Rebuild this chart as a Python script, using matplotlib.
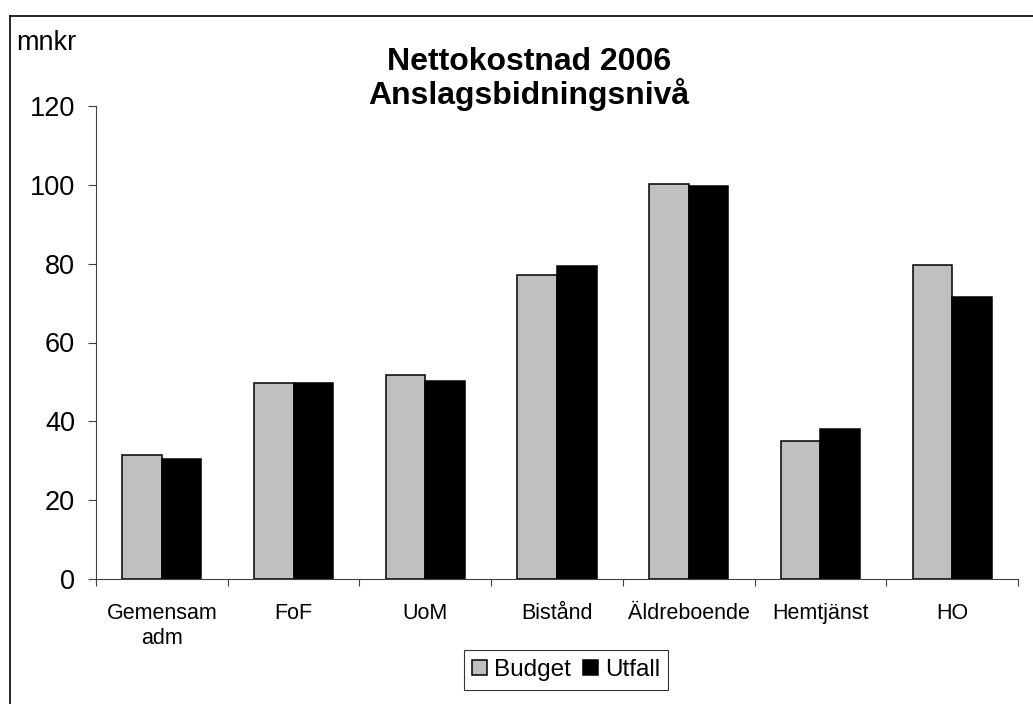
import numpy as np
import matplotlib.pyplot as plt
from matplotlib.lines import Line2D

plt.rcParams["font.family"] = ["Liberation Sans", "DejaVu Sans"]

GREY = "#c0c0c0"
BLACK = "#000000"

categories = ["Gemensam\nadm", "FoF", "UoM", "Bistånd", "Äldreboende", "Hemtjänst", "HO"]
budget = [31.4, 49.7, 51.8, 77.2, 100.1, 35.0, 79.7]
utfall = [30.5, 49.8, 50.3, 79.3, 99.6, 38.1, 71.6]
yticks = [0, 20, 40, 60, 80, 100, 120]

W, H = 1033, 704
fig = plt.figure(figsize=(W / 100, H / 100), dpi=100)
ax = fig.add_axes([96 / W, 1 - 579 / H, (1018 - 96) / W, (579 - 106) / H])

x = np.arange(len(categories))
width = 0.3
b1 = ax.bar(x - width / 2, budget, width, color=GREY, edgecolor=BLACK, linewidth=1.1, label="Budget")
b2 = ax.bar(x + width / 2, utfall, width, color=BLACK, edgecolor=BLACK, linewidth=1.1, label="Utfall")

ax.set_xlim(-0.5, len(categories) - 0.5)
ax.set_ylim(0, 120)
ax.set_yticks(yticks)
ax.set_yticklabels([str(v) for v in yticks], fontsize=19.5)
ax.tick_params(axis="y", length=6, width=0.8, pad=9, color="#404040")

# boundary ticks without labels, category names on minor ticks
ax.set_xticks(np.arange(len(categories) + 1) - 0.5)
ax.set_xticklabels([])
ax.tick_params(axis="x", which="major", length=5, width=0.8, color="#404040")
ax.set_xticks(x, minor=True)
ax.set_xticklabels(categories, minor=True, fontsize=15.5, linespacing=1.3)
ax.tick_params(axis="x", which="minor", length=0, pad=17)

for side in ["top", "right"]:
    ax.spines[side].set_visible(False)
for side in ["left", "bottom"]:
    ax.spines[side].set_linewidth(0.8)
    ax.spines[side].set_color("#404040")

fig.text(529 / W, 1 - 70 / H, "Nettokostnad 2006", ha="center", va="baseline",
         fontsize=23, fontweight="bold")
fig.text(529 / W, 1 - 104 / H, "Anslagsbidningsnivå", ha="center", va="baseline",
         fontsize=23, fontweight="bold")
fig.text(16 / W, 1 - 50 / H, "mnkr", ha="left", va="baseline", fontsize=19.5)

leg = fig.legend(handles=[b1, b2], loc="center", bbox_to_anchor=(566 / W, 1 - 670 / H),
                 ncol=2, fontsize=17.5, frameon=True, fancybox=False,
                 handlelength=0.6, handleheight=0.6, handletextpad=0.3,
                 columnspacing=0.5, borderpad=0.35, borderaxespad=0)
leg.get_frame().set_edgecolor(BLACK)
leg.get_frame().set_linewidth(0.8)

# outer chart-area frame (only left/top visible in the crop)
fig.add_artist(Line2D([10 / W, 10 / W], [0, 1 - 16 / H], transform=fig.transFigure,
                      color=BLACK, linewidth=1.2))
fig.add_artist(Line2D([10 / W, 1], [1 - 16 / H, 1 - 16 / H], transform=fig.transFigure,
                      color=BLACK, linewidth=1.2))

fig.savefig("out.png", dpi=100)
